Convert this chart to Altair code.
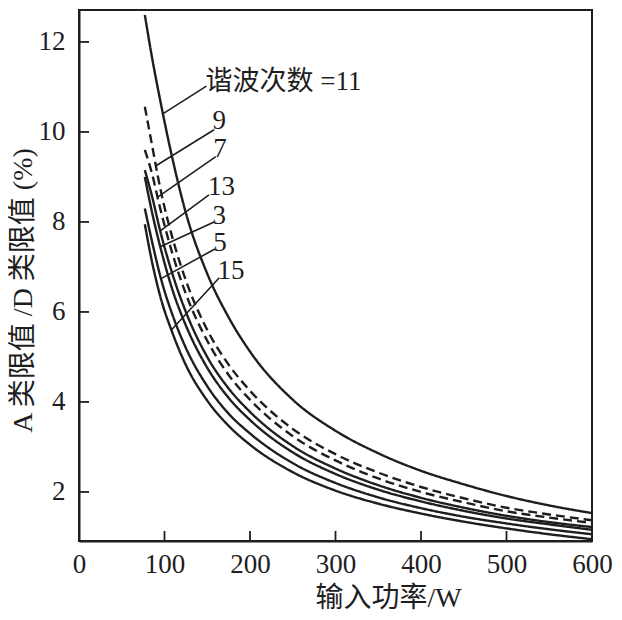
import altair as alt
import pandas as pd

# ---- data ----
power = [77, 85, 95, 110, 125, 150, 175, 200, 250, 300, 350, 400, 450, 500, 550, 600]

h11 = [12.6, 11.7, 10.7, 9.35, 8.2, 6.85, 5.88, 5.12, 4.05, 3.36, 2.86, 2.47, 2.17, 1.91, 1.7, 1.53]
h9 = [10.56, 9.75, 8.75, 7.6, 6.7, 5.6, 4.83, 4.25, 3.4, 2.84, 2.43, 2.11, 1.86, 1.65, 1.5, 1.37]
h7 = [9.6, 9.1, 8.3, 7.25, 6.4, 5.36, 4.6, 4.05, 3.24, 2.7, 2.3, 2.0, 1.77, 1.57, 1.43, 1.31]
h13 = [9.15, 8.6, 7.8, 6.8, 6.0, 5.0, 4.3, 3.78, 3.02, 2.52, 2.15, 1.87, 1.65, 1.47, 1.33, 1.22]
h3 = [9.0, 8.25, 7.45, 6.45, 5.7, 4.76, 4.09, 3.6, 2.88, 2.4, 2.05, 1.79, 1.58, 1.41, 1.28, 1.16]
h5 = [8.3, 7.6, 6.8, 5.9, 5.2, 4.35, 3.74, 3.3, 2.64, 2.2, 1.88, 1.64, 1.45, 1.3, 1.17, 1.06]
h15 = [7.95, 7.15, 6.35, 5.5, 4.82, 4.03, 3.47, 3.05, 2.44, 2.03, 1.74, 1.52, 1.34, 1.19, 1.06, 0.95]

series_names = ["11", "9", "7", "13", "3", "5", "15"]
series_values = [h11, h9, h7, h13, h3, h5, h15]
series_style = ["solid", "dashed", "dashed", "solid", "solid", "solid", "solid"]

label_texts = ["谐波次数 =11", "9", "7", "13", "3", "5", "15"]
label_x = [148, 156, 157, 151, 156, 157, 162]
label_y = [11.12, 10.25, 9.62, 8.78, 8.14, 7.54, 6.9]

leader_x1 = [149, 158, 160, 152, 158, 159, 164]
leader_y1 = [11.02, 10.05, 9.45, 8.6, 8.0, 7.4, 6.76]
leader_x2 = [98, 90, 92, 95, 95, 96, 108]
leader_y2 = [10.4, 9.25, 8.55, 7.8, 7.45, 6.74, 5.6]

x_ticks = [100, 200, 300, 400, 500]
y_ticks = [2, 4, 6, 8, 10, 12]
x_labels = [0, 100, 200, 300, 400, 500, 600]

# ---- build tables ----
rows = []
for name, vals, sty in zip(series_names, series_values, series_style):
    for p, v in zip(power, vals):
        rows.append({"P": p, "V": v, "h": name, "style": sty})
curves = pd.DataFrame(rows)

labels = pd.DataFrame({"x": label_x, "y": label_y, "t": label_texts})
leaders = pd.DataFrame({"x": leader_x1, "y": leader_y1, "x2": leader_x2, "y2": leader_y2})
xt = pd.DataFrame({"v": x_ticks})
yt = pd.DataFrame({"v": y_ticks})

W, H = 513, 531
FONT = "Liberation Serif, Noto Sans CJK SC"
INK = "#1e1e1e"

xscale = alt.Scale(domain=[0, 600], nice=False, zero=False)
yscale = alt.Scale(domain=[0.91, 12.71], nice=False, zero=False)

xaxis = alt.Axis(values=x_labels, ticks=False, grid=False, labelFontSize=27,
                 labelPadding=10, labelFlush=False, title="输入功率/W", titleFontSize=28,
                 titleFontWeight="normal", titleX=309, titleY=57,
                 titleBaseline="middle", titleAnchor="middle")
yaxis = alt.Axis(values=y_ticks, ticks=False, grid=False, labelFontSize=27,
                 labelPadding=14, labelFlush=False, title="A 类限值 /D 类限值 (%)", titleFontSize=28,
                 titleFontWeight="normal", titleX=-56, titleY=280,
                 titleBaseline="middle", titleAnchor="middle")

lines = alt.Chart(curves).mark_line(interpolate="monotone", strokeWidth=2.4, color=INK).encode(
    x=alt.X("P:Q", scale=xscale, axis=xaxis),
    y=alt.Y("V:Q", scale=yscale, axis=yaxis),
    detail="h:N",
    strokeDash=alt.StrokeDash("style:N",
                              scale=alt.Scale(domain=["solid", "dashed"], range=[[1, 0], [9, 5]]),
                              legend=None),
)

lead = alt.Chart(leaders).mark_rule(strokeWidth=1.6, color=INK).encode(
    x=alt.X("x:Q", scale=xscale), y=alt.Y("y:Q", scale=yscale),
    x2="x2:Q", y2="y2:Q",
)

txt = alt.Chart(labels).mark_text(align="left", baseline="middle", fontSize=27,
                                  font=FONT, color=INK).encode(
    x=alt.X("x:Q", scale=xscale), y=alt.Y("y:Q", scale=yscale), text="t:N"
)

xtick_marks = alt.Chart(xt).mark_rule(strokeWidth=1.8, color=INK).encode(
    x=alt.X("v:Q", scale=xscale), y=alt.value(H), y2=alt.value(H - 10)
)
ytick_marks = alt.Chart(yt).mark_rule(strokeWidth=1.8, color=INK).encode(
    y=alt.Y("v:Q", scale=yscale), x=alt.value(0), x2=alt.value(10)
)

chart = alt.layer(lines, lead, txt, xtick_marks, ytick_marks).properties(
    width=W, height=H,
    autosize=alt.AutoSizeParams(type="none"),
    padding={"left": 71, "top": 2, "right": 22, "bottom": 71},
).configure_view(
    stroke=INK, strokeWidth=2
).configure_axis(
    domainColor=INK, domainWidth=2, labelColor=INK, titleColor=INK,
    labelFont=FONT, titleFont=FONT
)

chart.save("out.html", embed_options={"renderer": "svg", "actions": False})
